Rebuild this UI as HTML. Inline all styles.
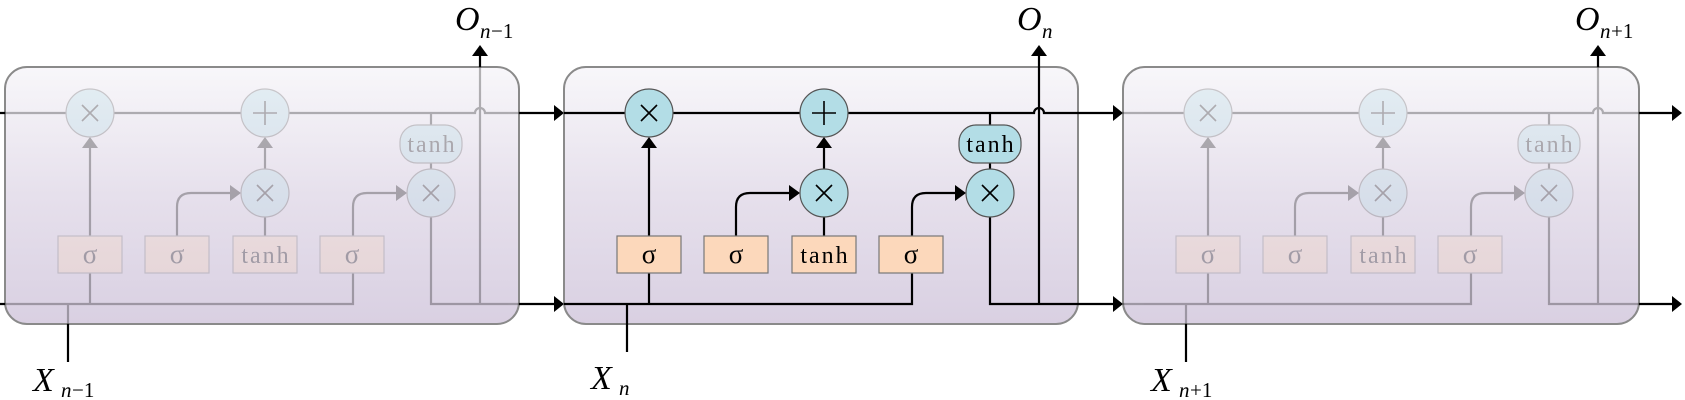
<!DOCTYPE html>
<html><head><meta charset="utf-8"><style>
html,body{margin:0;padding:0;background:#fff}
svg{display:block}
text{font-family:"Liberation Serif",serif}
</style></head><body>
<svg width="1685" height="400" viewBox="0 0 1685 400" xmlns="http://www.w3.org/2000/svg">
<defs>
<linearGradient id="g" x1="0" y1="0" x2="0" y2="1">
<stop offset="0" stop-color="#f8f7fa"/><stop offset="0.5" stop-color="#e6e0ec"/><stop offset="1" stop-color="#d9d0e2"/>
</linearGradient>
</defs>

<rect x="5" y="67" width="514" height="257" rx="22" fill="url(#g)" stroke="#8a8a8a" stroke-width="2"/>
<rect x="564" y="67" width="514" height="257" rx="22" fill="url(#g)" stroke="#8a8a8a" stroke-width="2"/>
<rect x="1123" y="67" width="516" height="257" rx="22" fill="url(#g)" stroke="#8a8a8a" stroke-width="2"/>

<g stroke="#000" stroke-width="2.2" fill="none">
<path d="M0 113H5M0 304H5"/>
<path d="M519 113H556M519 304H556"/>
<path d="M1078 113H1115M1078 304H1115"/>
<path d="M1639 113H1674M1639 304H1674"/>
<path d="M480 67V55M1039 67V55M1598 67V55"/>
<path d="M68 324V362M627 324V352M1186 324V362"/>
</g>
<g fill="#000">
<path d="M554 105L564 113L554 121Z"/><path d="M554 296L564 304L554 312Z"/>
<path d="M1113 105L1123 113L1113 121Z"/><path d="M1113 296L1123 304L1113 312Z"/>
<path d="M1672 105L1682 113L1672 121Z"/><path d="M1672 296L1682 304L1672 312Z"/>
<path d="M472 56L480 45L488 56Z"/><path d="M1031 56L1039 45L1047 56Z"/><path d="M1590 56L1598 45L1606 56Z"/>
</g>

<g font-style="italic" fill="#000">
<text x="455" y="30" font-size="34">O</text><text x="480" y="38" font-size="21">n</text><text x="491" y="38" font-size="21" font-style="normal">−1</text>
<text x="1017" y="30" font-size="34">O</text><text x="1042" y="38" font-size="21">n</text>
<text x="1575" y="30" font-size="34">O</text><text x="1600" y="38" font-size="21">n</text><text x="1611" y="38" font-size="21" font-style="normal">+1</text>
<text x="33" y="391" font-size="34">X</text><text x="61" y="397" font-size="21">n</text><text x="72" y="397" font-size="21" font-style="normal">−1</text>
<text x="591" y="389" font-size="34">X</text><text x="619" y="395" font-size="21">n</text>
<text x="1151" y="391" font-size="34">X</text><text x="1179" y="397" font-size="21">n</text><text x="1190" y="397" font-size="21" font-style="normal">+1</text>
</g>

<g>
<g stroke="#000" stroke-width="2.2" fill="none">
<path d="M564 113H1034a5 5 0 0 1 10 0H1078"/>
<path d="M564 304H912V273"/>
<path d="M649 304V273M649 236V146"/>
<path d="M912 236V207Q912 193 926 193H957"/>
<path d="M736 236V207Q736 193 750 193H791"/>
<path d="M824 236V217M824 169V146"/>
<path d="M990 113V125M990 163V169"/>
<path d="M990 217V304H1078"/>
<path d="M1039 304V67"/>
<path d="M627 304V324"/>
</g>
<g fill="#000">
<path d="M641 148L649 137L657 148Z"/><path d="M816 148L824 137L832 148Z"/>
<path d="M789 185L800 193L789 201Z"/><path d="M955 185L966 193L955 201Z"/>
</g>
<g fill="#b3dde6" stroke="#555" stroke-width="1.2">
<circle cx="649" cy="113" r="24"/><circle cx="824" cy="113" r="24"/>
<circle cx="824" cy="193" r="24"/><circle cx="990" cy="193" r="24"/>
<rect x="959" y="125" width="62" height="38" rx="17"/>
</g>
<g stroke="#000" stroke-width="1.6">
<path d="M641 105L657 121M657 105L641 121"/>
<path d="M824 101V125M812 113H836"/>
<path d="M816 185L832 201M832 185L816 201"/>
<path d="M982 185L998 201M998 185L982 201"/>
</g>
<g fill="#fcd8bb" stroke="#777" stroke-width="1.2">
<rect x="617" y="236" width="64" height="37"/><rect x="704" y="236" width="64" height="37"/>
<rect x="792" y="236" width="64" height="37"/><rect x="879" y="236" width="64" height="37"/>
</g>
<g text-anchor="middle" fill="#000">
<text x="649" y="263" font-size="27">σ</text><text x="736" y="263" font-size="27">σ</text>
<text x="825" y="263" font-size="24" letter-spacing="2">tanh</text><text x="911" y="263" font-size="27">σ</text>
<text x="991" y="152" font-size="24" letter-spacing="2">tanh</text>
</g>
</g>

<g opacity="0.28" transform="translate(-559,0)">
<g stroke="#000" stroke-width="2.2" fill="none">
<path d="M564 113H1034a5 5 0 0 1 10 0H1078"/>
<path d="M564 304H912V273"/>
<path d="M649 304V273M649 236V146"/>
<path d="M912 236V207Q912 193 926 193H957"/>
<path d="M736 236V207Q736 193 750 193H791"/>
<path d="M824 236V217M824 169V146"/>
<path d="M990 113V125M990 163V169"/>
<path d="M990 217V304H1078"/>
<path d="M1039 304V67"/>
<path d="M627 304V324"/>
</g>
<g fill="#000">
<path d="M641 148L649 137L657 148Z"/><path d="M816 148L824 137L832 148Z"/>
<path d="M789 185L800 193L789 201Z"/><path d="M955 185L966 193L955 201Z"/>
</g>
<g fill="#b3dde6" stroke="#555" stroke-width="1.2">
<circle cx="649" cy="113" r="24"/><circle cx="824" cy="113" r="24"/>
<circle cx="824" cy="193" r="24"/><circle cx="990" cy="193" r="24"/>
<rect x="959" y="125" width="62" height="38" rx="17"/>
</g>
<g stroke="#000" stroke-width="1.6">
<path d="M641 105L657 121M657 105L641 121"/>
<path d="M824 101V125M812 113H836"/>
<path d="M816 185L832 201M832 185L816 201"/>
<path d="M982 185L998 201M998 185L982 201"/>
</g>
<g fill="#fcd8bb" stroke="#777" stroke-width="1.2">
<rect x="617" y="236" width="64" height="37"/><rect x="704" y="236" width="64" height="37"/>
<rect x="792" y="236" width="64" height="37"/><rect x="879" y="236" width="64" height="37"/>
</g>
<g text-anchor="middle" fill="#000">
<text x="649" y="263" font-size="27">σ</text><text x="736" y="263" font-size="27">σ</text>
<text x="825" y="263" font-size="24" letter-spacing="2">tanh</text><text x="911" y="263" font-size="27">σ</text>
<text x="991" y="152" font-size="24" letter-spacing="2">tanh</text>
</g>
</g>

<g opacity="0.28" transform="translate(559,0)">
<g stroke="#000" stroke-width="2.2" fill="none">
<path d="M564 113H1034a5 5 0 0 1 10 0H1080"/>
<path d="M564 304H912V273"/>
<path d="M649 304V273M649 236V146"/>
<path d="M912 236V207Q912 193 926 193H957"/>
<path d="M736 236V207Q736 193 750 193H791"/>
<path d="M824 236V217M824 169V146"/>
<path d="M990 113V125M990 163V169"/>
<path d="M990 217V304H1080"/>
<path d="M1039 304V67"/>
<path d="M627 304V324"/>
</g>
<g fill="#000">
<path d="M641 148L649 137L657 148Z"/><path d="M816 148L824 137L832 148Z"/>
<path d="M789 185L800 193L789 201Z"/><path d="M955 185L966 193L955 201Z"/>
</g>
<g fill="#b3dde6" stroke="#555" stroke-width="1.2">
<circle cx="649" cy="113" r="24"/><circle cx="824" cy="113" r="24"/>
<circle cx="824" cy="193" r="24"/><circle cx="990" cy="193" r="24"/>
<rect x="959" y="125" width="62" height="38" rx="17"/>
</g>
<g stroke="#000" stroke-width="1.6">
<path d="M641 105L657 121M657 105L641 121"/>
<path d="M824 101V125M812 113H836"/>
<path d="M816 185L832 201M832 185L816 201"/>
<path d="M982 185L998 201M998 185L982 201"/>
</g>
<g fill="#fcd8bb" stroke="#777" stroke-width="1.2">
<rect x="617" y="236" width="64" height="37"/><rect x="704" y="236" width="64" height="37"/>
<rect x="792" y="236" width="64" height="37"/><rect x="879" y="236" width="64" height="37"/>
</g>
<g text-anchor="middle" fill="#000">
<text x="649" y="263" font-size="27">σ</text><text x="736" y="263" font-size="27">σ</text>
<text x="825" y="263" font-size="24" letter-spacing="2">tanh</text><text x="911" y="263" font-size="27">σ</text>
<text x="991" y="152" font-size="24" letter-spacing="2">tanh</text>
</g>
</g>
</svg>
</body></html>
